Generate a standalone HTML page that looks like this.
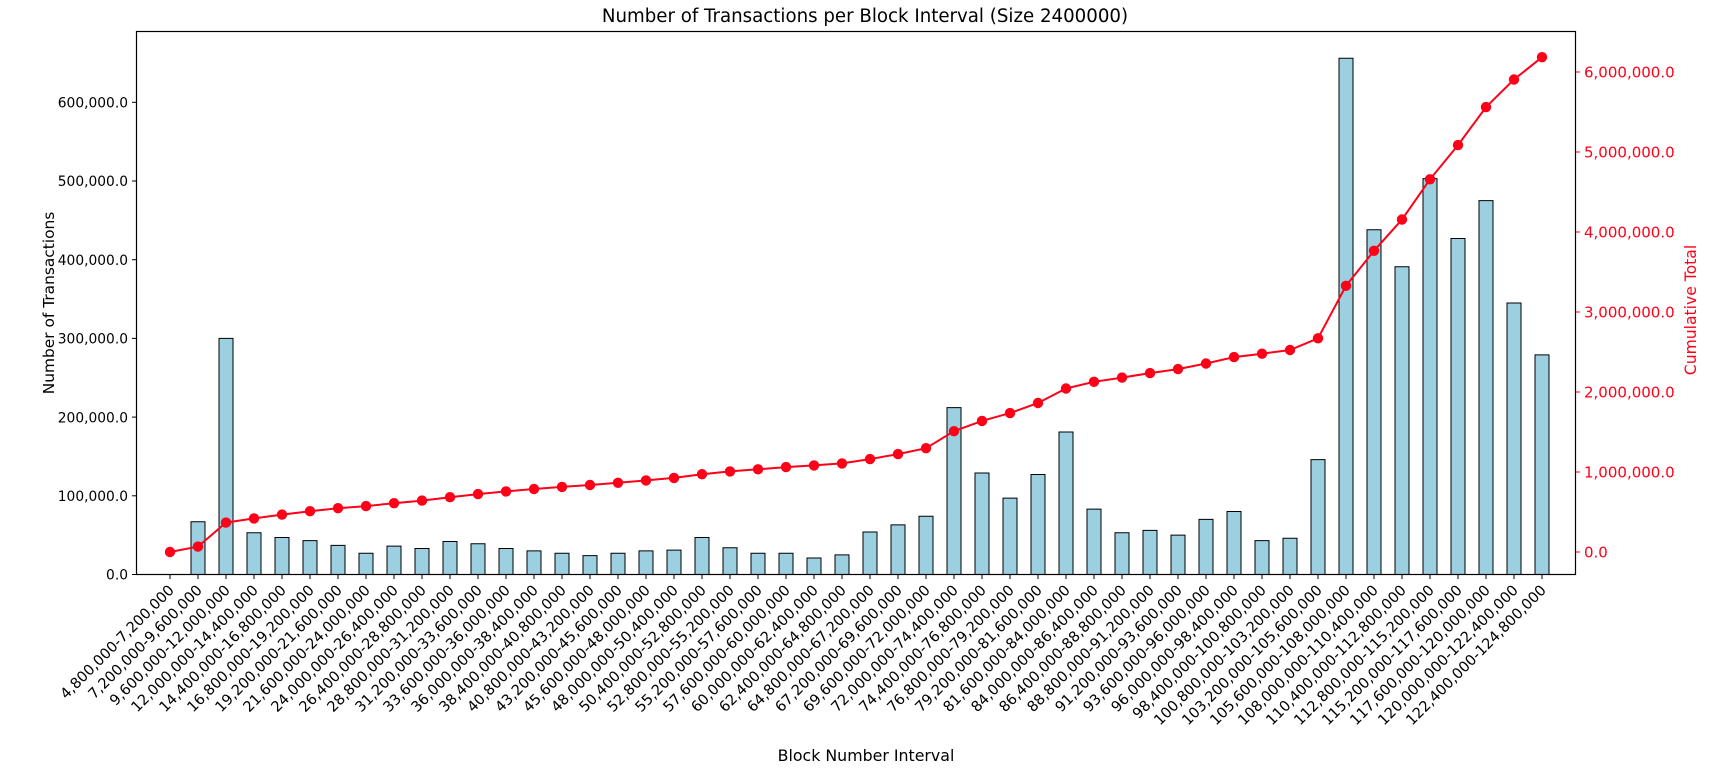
<!DOCTYPE html>
<html><head><meta charset="utf-8"><style>
html,body{margin:0;padding:0;background:#fff;}
svg{display:block;font-family:"DejaVu Sans","Liberation Sans",sans-serif;}
</style></head><body>
<svg width="1733" height="780" viewBox="0 0 1733 780" xmlns="http://www.w3.org/2000/svg">
<rect width="1733" height="780" fill="#fff"/>
<text x="865" y="22" font-size="18.2" text-anchor="middle" fill="#000">Number of Transactions per Block Interval (Size 2400000)</text>
<!-- bars -->
<g transform="translate(0,574.5) scale(1,-0.787)" fill="#9ccfe0" stroke="#000">
<rect x="191" y="0" width="14" height="67" vector-effect="non-scaling-stroke"/>
<rect x="219" y="0" width="14" height="300" vector-effect="non-scaling-stroke"/>
<rect x="247" y="0" width="14" height="53" vector-effect="non-scaling-stroke"/>
<rect x="275" y="0" width="14" height="47" vector-effect="non-scaling-stroke"/>
<rect x="303" y="0" width="14" height="43" vector-effect="non-scaling-stroke"/>
<rect x="331" y="0" width="14" height="37" vector-effect="non-scaling-stroke"/>
<rect x="359" y="0" width="14" height="27" vector-effect="non-scaling-stroke"/>
<rect x="387" y="0" width="14" height="36" vector-effect="non-scaling-stroke"/>
<rect x="415" y="0" width="14" height="33" vector-effect="non-scaling-stroke"/>
<rect x="443" y="0" width="14" height="42" vector-effect="non-scaling-stroke"/>
<rect x="471" y="0" width="14" height="39" vector-effect="non-scaling-stroke"/>
<rect x="499" y="0" width="14" height="33" vector-effect="non-scaling-stroke"/>
<rect x="527" y="0" width="14" height="30" vector-effect="non-scaling-stroke"/>
<rect x="555" y="0" width="14" height="27" vector-effect="non-scaling-stroke"/>
<rect x="583" y="0" width="14" height="24" vector-effect="non-scaling-stroke"/>
<rect x="611" y="0" width="14" height="27" vector-effect="non-scaling-stroke"/>
<rect x="639" y="0" width="14" height="30" vector-effect="non-scaling-stroke"/>
<rect x="667" y="0" width="14" height="31" vector-effect="non-scaling-stroke"/>
<rect x="695" y="0" width="14" height="47" vector-effect="non-scaling-stroke"/>
<rect x="723" y="0" width="14" height="34" vector-effect="non-scaling-stroke"/>
<rect x="751" y="0" width="14" height="27" vector-effect="non-scaling-stroke"/>
<rect x="779" y="0" width="14" height="27" vector-effect="non-scaling-stroke"/>
<rect x="807" y="0" width="14" height="21" vector-effect="non-scaling-stroke"/>
<rect x="835" y="0" width="14" height="25" vector-effect="non-scaling-stroke"/>
<rect x="863" y="0" width="14" height="54" vector-effect="non-scaling-stroke"/>
<rect x="891" y="0" width="14" height="63" vector-effect="non-scaling-stroke"/>
<rect x="919" y="0" width="14" height="74" vector-effect="non-scaling-stroke"/>
<rect x="947" y="0" width="14" height="212" vector-effect="non-scaling-stroke"/>
<rect x="975" y="0" width="14" height="129" vector-effect="non-scaling-stroke"/>
<rect x="1003" y="0" width="14" height="97" vector-effect="non-scaling-stroke"/>
<rect x="1031" y="0" width="14" height="127" vector-effect="non-scaling-stroke"/>
<rect x="1059" y="0" width="14" height="181" vector-effect="non-scaling-stroke"/>
<rect x="1087" y="0" width="14" height="83" vector-effect="non-scaling-stroke"/>
<rect x="1115" y="0" width="14" height="53" vector-effect="non-scaling-stroke"/>
<rect x="1143" y="0" width="14" height="56" vector-effect="non-scaling-stroke"/>
<rect x="1171" y="0" width="14" height="50" vector-effect="non-scaling-stroke"/>
<rect x="1199" y="0" width="14" height="70" vector-effect="non-scaling-stroke"/>
<rect x="1227" y="0" width="14" height="80" vector-effect="non-scaling-stroke"/>
<rect x="1255" y="0" width="14" height="43" vector-effect="non-scaling-stroke"/>
<rect x="1283" y="0" width="14" height="46" vector-effect="non-scaling-stroke"/>
<rect x="1311" y="0" width="14" height="146" vector-effect="non-scaling-stroke"/>
<rect x="1339" y="0" width="14" height="656" vector-effect="non-scaling-stroke"/>
<rect x="1367" y="0" width="14" height="438" vector-effect="non-scaling-stroke"/>
<rect x="1395" y="0" width="14" height="391" vector-effect="non-scaling-stroke"/>
<rect x="1423" y="0" width="14" height="503" vector-effect="non-scaling-stroke"/>
<rect x="1451" y="0" width="14" height="427" vector-effect="non-scaling-stroke"/>
<rect x="1479" y="0" width="14" height="475" vector-effect="non-scaling-stroke"/>
<rect x="1507" y="0" width="14" height="345" vector-effect="non-scaling-stroke"/>
<rect x="1535" y="0" width="14" height="279" vector-effect="non-scaling-stroke"/>
</g>
<!-- line -->
<polyline fill="none" stroke="#ff0018" stroke-width="2" points="170,552 198,546.6 226,522.6 254,518.4 282,514.6 310,511.2 338,508.2 366,506.1 394,503.2 422,500.6 450,497.2 478,494.1 506,491.4 534,489 562,486.9 590,485 618,482.8 646,480.4 674,477.9 702,474.2 730,471.4 758,469.3 786,467.1 814,465.4 842,463.4 870,459.1 898,454.1 926,448.2 954,431.2 982,420.9 1010,413.1 1038,403 1066,388.5 1094,381.8 1122,377.6 1150,373.1 1178,369.1 1206,363.5 1234,357.1 1262,353.7 1290,350 1318,338.3 1346,285.8 1374,250.8 1402,219.5 1430,179.3 1458,145.1 1486,107.1 1514,79.5 1542,57.2"/>
<g fill="#ff0018">
<circle cx="170" cy="552" r="5.2"/><circle cx="198" cy="546.6" r="5.2"/><circle cx="226" cy="522.6" r="5.2"/><circle cx="254" cy="518.4" r="5.2"/><circle cx="282" cy="514.6" r="5.2"/><circle cx="310" cy="511.2" r="5.2"/><circle cx="338" cy="508.2" r="5.2"/><circle cx="366" cy="506.1" r="5.2"/><circle cx="394" cy="503.2" r="5.2"/><circle cx="422" cy="500.6" r="5.2"/><circle cx="450" cy="497.2" r="5.2"/><circle cx="478" cy="494.1" r="5.2"/><circle cx="506" cy="491.4" r="5.2"/><circle cx="534" cy="489" r="5.2"/><circle cx="562" cy="486.9" r="5.2"/><circle cx="590" cy="485" r="5.2"/><circle cx="618" cy="482.8" r="5.2"/><circle cx="646" cy="480.4" r="5.2"/><circle cx="674" cy="477.9" r="5.2"/><circle cx="702" cy="474.2" r="5.2"/><circle cx="730" cy="471.4" r="5.2"/><circle cx="758" cy="469.3" r="5.2"/><circle cx="786" cy="467.1" r="5.2"/><circle cx="814" cy="465.4" r="5.2"/><circle cx="842" cy="463.4" r="5.2"/><circle cx="870" cy="459.1" r="5.2"/><circle cx="898" cy="454.1" r="5.2"/><circle cx="926" cy="448.2" r="5.2"/><circle cx="954" cy="431.2" r="5.2"/><circle cx="982" cy="420.9" r="5.2"/><circle cx="1010" cy="413.1" r="5.2"/><circle cx="1038" cy="403" r="5.2"/><circle cx="1066" cy="388.5" r="5.2"/><circle cx="1094" cy="381.8" r="5.2"/><circle cx="1122" cy="377.6" r="5.2"/><circle cx="1150" cy="373.1" r="5.2"/><circle cx="1178" cy="369.1" r="5.2"/><circle cx="1206" cy="363.5" r="5.2"/><circle cx="1234" cy="357.1" r="5.2"/><circle cx="1262" cy="353.7" r="5.2"/><circle cx="1290" cy="350" r="5.2"/><circle cx="1318" cy="338.3" r="5.2"/><circle cx="1346" cy="285.8" r="5.2"/><circle cx="1374" cy="250.8" r="5.2"/><circle cx="1402" cy="219.5" r="5.2"/><circle cx="1430" cy="179.3" r="5.2"/><circle cx="1458" cy="145.1" r="5.2"/><circle cx="1486" cy="107.1" r="5.2"/><circle cx="1514" cy="79.5" r="5.2"/><circle cx="1542" cy="57.2" r="5.2"/>
</g>
<!-- axes frame -->
<rect x="136.5" y="31.5" width="1439" height="543" fill="none" stroke="#000" stroke-width="1.2"/>
<!-- left ticks -->
<g stroke="#000" stroke-width="1">
<line x1="132" y1="574.5" x2="136" y2="574.5"/><line x1="132" y1="495.8" x2="136" y2="495.8"/><line x1="132" y1="417.1" x2="136" y2="417.1"/><line x1="132" y1="338.4" x2="136" y2="338.4"/><line x1="132" y1="259.7" x2="136" y2="259.7"/><line x1="132" y1="181" x2="136" y2="181"/><line x1="132" y1="102.3" x2="136" y2="102.3"/>
</g>
<g font-size="13.8" text-anchor="end" fill="#000">
<text x="128" y="579.5">0.0</text><text x="128" y="501">100,000.0</text><text x="128" y="422.3">200,000.0</text><text x="128" y="343.5">300,000.0</text><text x="128" y="264.8">400,000.0</text><text x="128" y="186.2">500,000.0</text><text x="128" y="107.5">600,000.0</text>
</g>
<!-- right ticks -->
<g stroke="#ff0018" stroke-width="1">
<line x1="1576" y1="552" x2="1580" y2="552"/><line x1="1576" y1="472" x2="1580" y2="472"/><line x1="1576" y1="392" x2="1580" y2="392"/><line x1="1576" y1="312" x2="1580" y2="312"/><line x1="1576" y1="232" x2="1580" y2="232"/><line x1="1576" y1="152" x2="1580" y2="152"/><line x1="1576" y1="72" x2="1580" y2="72"/>
</g>
<g font-size="15" fill="#ff0018">
<text x="1584" y="557.5">0.0</text><text x="1584" y="477.5">1,000,000.0</text><text x="1584" y="397.5">2,000,000.0</text><text x="1584" y="317.5">3,000,000.0</text><text x="1584" y="237.5">4,000,000.0</text><text x="1584" y="157.5">5,000,000.0</text><text x="1584" y="77.5">6,000,000.0</text>
</g>
<text transform="translate(1696,310) rotate(-90)" font-size="15.6" fill="#ff0018" text-anchor="middle">Cumulative Total</text>
<text transform="translate(54,303) rotate(-90)" font-size="15.4" fill="#000" text-anchor="middle">Number of Transactions</text>
<text x="866" y="761" font-size="15.8" fill="#000" text-anchor="middle">Block Number Interval</text>
<!-- x ticks -->
<g stroke="#000" stroke-width="1">
<line x1="170" y1="575" x2="170" y2="579"/><line x1="198" y1="575" x2="198" y2="579"/><line x1="226" y1="575" x2="226" y2="579"/><line x1="254" y1="575" x2="254" y2="579"/><line x1="282" y1="575" x2="282" y2="579"/><line x1="310" y1="575" x2="310" y2="579"/><line x1="338" y1="575" x2="338" y2="579"/><line x1="366" y1="575" x2="366" y2="579"/><line x1="394" y1="575" x2="394" y2="579"/><line x1="422" y1="575" x2="422" y2="579"/><line x1="450" y1="575" x2="450" y2="579"/><line x1="478" y1="575" x2="478" y2="579"/><line x1="506" y1="575" x2="506" y2="579"/><line x1="534" y1="575" x2="534" y2="579"/><line x1="562" y1="575" x2="562" y2="579"/><line x1="590" y1="575" x2="590" y2="579"/><line x1="618" y1="575" x2="618" y2="579"/><line x1="646" y1="575" x2="646" y2="579"/><line x1="674" y1="575" x2="674" y2="579"/><line x1="702" y1="575" x2="702" y2="579"/><line x1="730" y1="575" x2="730" y2="579"/><line x1="758" y1="575" x2="758" y2="579"/><line x1="786" y1="575" x2="786" y2="579"/><line x1="814" y1="575" x2="814" y2="579"/><line x1="842" y1="575" x2="842" y2="579"/><line x1="870" y1="575" x2="870" y2="579"/><line x1="898" y1="575" x2="898" y2="579"/><line x1="926" y1="575" x2="926" y2="579"/><line x1="954" y1="575" x2="954" y2="579"/><line x1="982" y1="575" x2="982" y2="579"/><line x1="1010" y1="575" x2="1010" y2="579"/><line x1="1038" y1="575" x2="1038" y2="579"/><line x1="1066" y1="575" x2="1066" y2="579"/><line x1="1094" y1="575" x2="1094" y2="579"/><line x1="1122" y1="575" x2="1122" y2="579"/><line x1="1150" y1="575" x2="1150" y2="579"/><line x1="1178" y1="575" x2="1178" y2="579"/><line x1="1206" y1="575" x2="1206" y2="579"/><line x1="1234" y1="575" x2="1234" y2="579"/><line x1="1262" y1="575" x2="1262" y2="579"/><line x1="1290" y1="575" x2="1290" y2="579"/><line x1="1318" y1="575" x2="1318" y2="579"/><line x1="1346" y1="575" x2="1346" y2="579"/><line x1="1374" y1="575" x2="1374" y2="579"/><line x1="1402" y1="575" x2="1402" y2="579"/><line x1="1430" y1="575" x2="1430" y2="579"/><line x1="1458" y1="575" x2="1458" y2="579"/><line x1="1486" y1="575" x2="1486" y2="579"/><line x1="1514" y1="575" x2="1514" y2="579"/><line x1="1542" y1="575" x2="1542" y2="579"/>
</g>
<g font-size="14.6" fill="#000" text-anchor="end">
<text transform="translate(175,591) rotate(-45)">4,800,000-7,200,000</text>
<text transform="translate(203,591) rotate(-45)">7,200,000-9,600,000</text>
<text transform="translate(231,591) rotate(-45)">9,600,000-12,000,000</text>
<text transform="translate(259,591) rotate(-45)">12,000,000-14,400,000</text>
<text transform="translate(287,591) rotate(-45)">14,400,000-16,800,000</text>
<text transform="translate(315,591) rotate(-45)">16,800,000-19,200,000</text>
<text transform="translate(343,591) rotate(-45)">19,200,000-21,600,000</text>
<text transform="translate(371,591) rotate(-45)">21,600,000-24,000,000</text>
<text transform="translate(399,591) rotate(-45)">24,000,000-26,400,000</text>
<text transform="translate(427,591) rotate(-45)">26,400,000-28,800,000</text>
<text transform="translate(455,591) rotate(-45)">28,800,000-31,200,000</text>
<text transform="translate(483,591) rotate(-45)">31,200,000-33,600,000</text>
<text transform="translate(511,591) rotate(-45)">33,600,000-36,000,000</text>
<text transform="translate(539,591) rotate(-45)">36,000,000-38,400,000</text>
<text transform="translate(567,591) rotate(-45)">38,400,000-40,800,000</text>
<text transform="translate(595,591) rotate(-45)">40,800,000-43,200,000</text>
<text transform="translate(623,591) rotate(-45)">43,200,000-45,600,000</text>
<text transform="translate(651,591) rotate(-45)">45,600,000-48,000,000</text>
<text transform="translate(679,591) rotate(-45)">48,000,000-50,400,000</text>
<text transform="translate(707,591) rotate(-45)">50,400,000-52,800,000</text>
<text transform="translate(735,591) rotate(-45)">52,800,000-55,200,000</text>
<text transform="translate(763,591) rotate(-45)">55,200,000-57,600,000</text>
<text transform="translate(791,591) rotate(-45)">57,600,000-60,000,000</text>
<text transform="translate(819,591) rotate(-45)">60,000,000-62,400,000</text>
<text transform="translate(847,591) rotate(-45)">62,400,000-64,800,000</text>
<text transform="translate(875,591) rotate(-45)">64,800,000-67,200,000</text>
<text transform="translate(903,591) rotate(-45)">67,200,000-69,600,000</text>
<text transform="translate(931,591) rotate(-45)">69,600,000-72,000,000</text>
<text transform="translate(959,591) rotate(-45)">72,000,000-74,400,000</text>
<text transform="translate(987,591) rotate(-45)">74,400,000-76,800,000</text>
<text transform="translate(1015,591) rotate(-45)">76,800,000-79,200,000</text>
<text transform="translate(1043,591) rotate(-45)">79,200,000-81,600,000</text>
<text transform="translate(1071,591) rotate(-45)">81,600,000-84,000,000</text>
<text transform="translate(1099,591) rotate(-45)">84,000,000-86,400,000</text>
<text transform="translate(1127,591) rotate(-45)">86,400,000-88,800,000</text>
<text transform="translate(1155,591) rotate(-45)">88,800,000-91,200,000</text>
<text transform="translate(1183,591) rotate(-45)">91,200,000-93,600,000</text>
<text transform="translate(1211,591) rotate(-45)">93,600,000-96,000,000</text>
<text transform="translate(1239,591) rotate(-45)">96,000,000-98,400,000</text>
<text transform="translate(1267,591) rotate(-45)">98,400,000-100,800,000</text>
<text transform="translate(1295,591) rotate(-45)">100,800,000-103,200,000</text>
<text transform="translate(1323,591) rotate(-45)">103,200,000-105,600,000</text>
<text transform="translate(1351,591) rotate(-45)">105,600,000-108,000,000</text>
<text transform="translate(1379,591) rotate(-45)">108,000,000-110,400,000</text>
<text transform="translate(1407,591) rotate(-45)">110,400,000-112,800,000</text>
<text transform="translate(1435,591) rotate(-45)">112,800,000-115,200,000</text>
<text transform="translate(1463,591) rotate(-45)">115,200,000-117,600,000</text>
<text transform="translate(1491,591) rotate(-45)">117,600,000-120,000,000</text>
<text transform="translate(1519,591) rotate(-45)">120,000,000-122,400,000</text>
<text transform="translate(1547,591) rotate(-45)">122,400,000-124,800,000</text>
</g>
</svg>
</body></html>
